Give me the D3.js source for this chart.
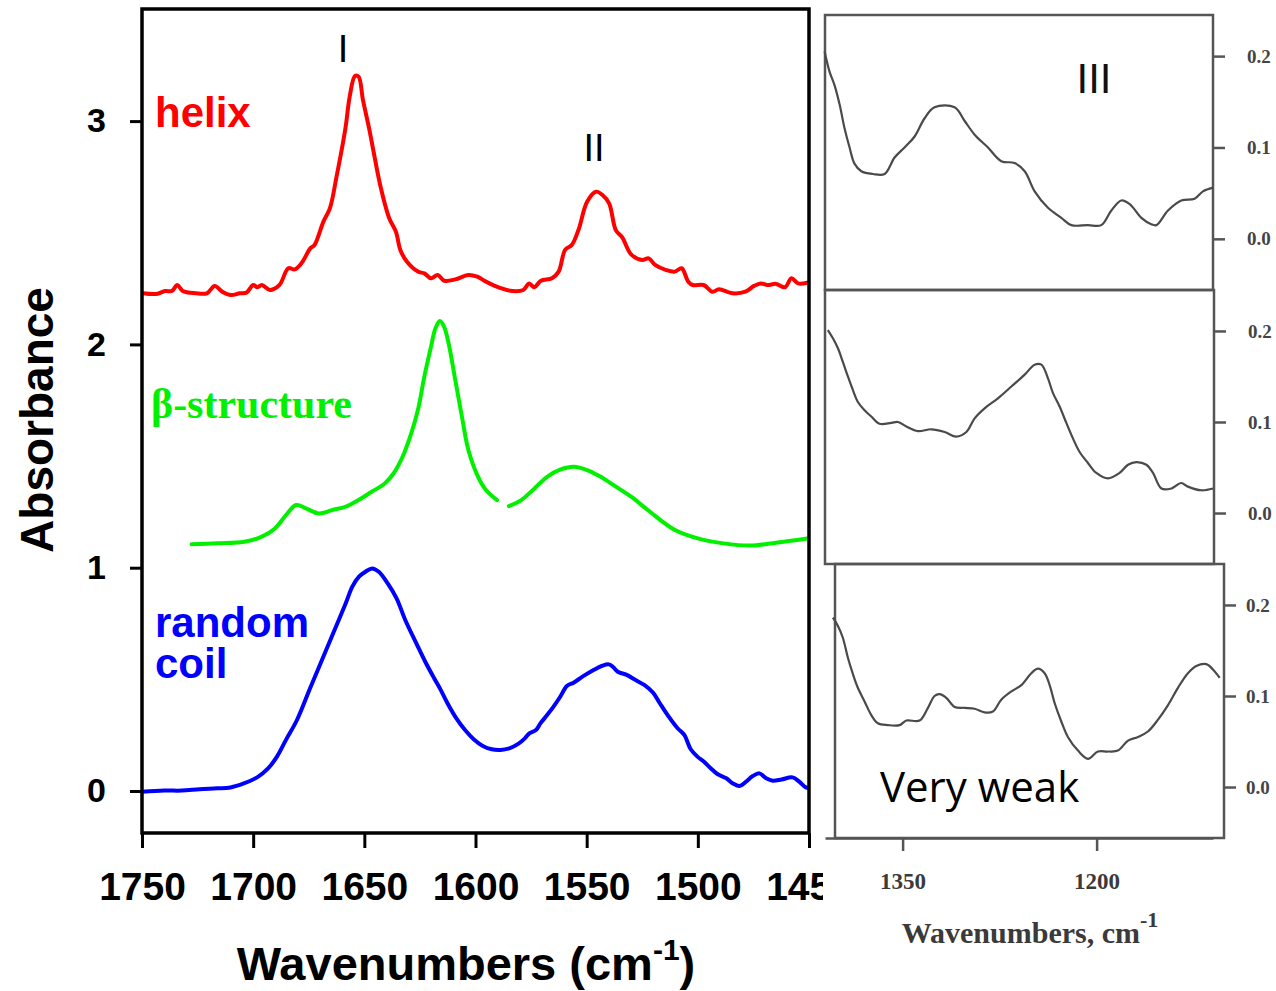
<!DOCTYPE html>
<html><head><meta charset="utf-8">
<script src="https://cdn.jsdelivr.net/npm/d3@7"></script>
<style>body{margin:0;background:#fff}svg{display:block}</style>
</head><body>
<svg id="c" width="1276" height="991"></svg>
<script>
// ---------- data ----------
const xTickValues = [1750,1700,1650,1600,1550,1500,1450];
const yTickValues = [0,1,2,3];
const seriesNames = ["helix","β-structure","random coil"];
const bandLabels = ["I","II","III"];

const helixSpectrum = [[1749.5,2.229],[1743.5,2.226],[1739.6,2.239],[1736.6,2.239],[1734.1,2.266],[1731.7,2.239],[1725.8,2.229],[1720.8,2.229],[1717.3,2.262],[1713.9,2.236],[1710.0,2.221],[1706.0,2.229],[1703.0,2.232],[1700.0,2.266],[1698.1,2.256],[1696.1,2.266],[1692.5,2.244],[1688.2,2.266],[1684.2,2.341],[1681.3,2.336],[1678.3,2.363],[1674.3,2.430],[1672.4,2.445],[1668.4,2.550],[1665.5,2.609],[1662.5,2.751],[1658.5,2.968],[1656.6,3.109],[1654.2,3.202],[1652.6,3.199],[1650.6,3.094],[1647.7,2.960],[1645.7,2.856],[1642.7,2.706],[1638.8,2.565],[1635.8,2.505],[1633.8,2.423],[1630.9,2.371],[1625.9,2.326],[1623.0,2.318],[1620.0,2.296],[1617.0,2.311],[1614.0,2.285],[1609.1,2.291],[1603.2,2.311],[1599.2,2.303],[1595.3,2.281],[1589.3,2.254],[1583.4,2.239],[1578.5,2.244],[1575.9,2.273],[1573.5,2.256],[1570.6,2.285],[1565.6,2.296],[1562.6,2.326],[1559.7,2.423],[1556.7,2.445],[1553.7,2.512],[1549.8,2.639],[1545.8,2.684],[1542.9,2.669],[1539.9,2.632],[1536.9,2.512],[1534.0,2.479],[1530.0,2.403],[1525.1,2.378],[1522.1,2.385],[1519.2,2.356],[1514.2,2.333],[1510.3,2.326],[1507.3,2.341],[1504.3,2.281],[1502.3,2.266],[1497.4,2.266],[1493.4,2.236],[1490.5,2.247],[1484.5,2.229],[1478.6,2.236],[1474.7,2.262],[1471.7,2.273],[1468.7,2.266],[1464.8,2.271],[1460.8,2.256],[1457.9,2.296],[1454.9,2.273],[1450.9,2.276]];

// null marks the break in the β-structure trace
const betaSpectrum = [[1727.7,1.105],[1715.9,1.109],[1704.0,1.116],[1696.1,1.139],[1690.2,1.176],[1685.2,1.236],[1680.7,1.281],[1676.3,1.266],[1670.4,1.243],[1664.5,1.258],[1658.5,1.273],[1652.6,1.303],[1646.7,1.340],[1640.7,1.378],[1636.8,1.423],[1632.8,1.497],[1628.9,1.602],[1625.9,1.706],[1623.0,1.856],[1620.0,1.990],[1618.0,2.072],[1616.0,2.105],[1614.1,2.079],[1612.1,2.005],[1609.1,1.841],[1606.1,1.676],[1603.2,1.527],[1599.2,1.415],[1595.3,1.348],[1590.3,1.303],null,[1585.0,1.276],[1579.4,1.303],[1573.5,1.355],[1567.6,1.408],[1561.7,1.440],[1555.7,1.452],[1549.8,1.437],[1543.9,1.408],[1537.9,1.370],[1530.0,1.318],[1522.1,1.255],[1510.3,1.169],[1498.4,1.127],[1488.5,1.109],[1476.6,1.099],[1464.8,1.112],[1450.9,1.131]];

const coilSpectrum = [[1750.0,-0.003],[1740.0,0.002],[1732.1,0.002],[1724.1,0.008],[1716.2,0.012],[1710.2,0.016],[1704.2,0.034],[1698.2,0.061],[1693.3,0.101],[1689.3,0.154],[1685.3,0.228],[1680.3,0.318],[1674.4,0.460],[1668.4,0.602],[1663.4,0.721],[1658.4,0.840],[1655.4,0.915],[1652.4,0.960],[1649.5,0.982],[1646.5,0.997],[1643.5,0.982],[1639.5,0.930],[1635.5,0.863],[1631.6,0.766],[1626.6,0.661],[1622.6,0.579],[1618.6,0.505],[1615.6,0.452],[1612.6,0.393],[1608.6,0.325],[1604.7,0.273],[1600.7,0.231],[1596.7,0.202],[1592.7,0.187],[1588.8,0.184],[1584.8,0.191],[1580.8,0.211],[1577.8,0.236],[1575.8,0.258],[1572.8,0.273],[1570.8,0.303],[1567.8,0.340],[1564.9,0.378],[1561.9,0.422],[1558.9,0.470],[1555.9,0.485],[1551.9,0.512],[1546.9,0.542],[1543.0,0.561],[1540.0,0.567],[1538.0,0.554],[1536.0,0.534],[1532.0,0.520],[1528.0,0.497],[1524.1,0.475],[1520.1,0.440],[1517.1,0.393],[1513.1,0.333],[1509.1,0.281],[1506.1,0.251],[1503.2,0.187],[1500.2,0.154],[1497.2,0.131],[1494.2,0.102],[1491.2,0.076],[1487.2,0.057],[1484.2,0.034],[1481.3,0.022],[1478.3,0.042],[1475.3,0.067],[1472.3,0.079],[1469.3,0.057],[1466.3,0.046],[1462.3,0.052],[1457.4,0.061],[1454.4,0.042],[1451.4,0.016],[1448.4,0.012]];

// amide III inset (three stacked panels)
const insetXTickValues = [1350,1200];
const insetYTickLabels = ["0.2","0.1","0.0"];
const insetYTickValues = [0.2,0.1,0.0];

const insetHelix = [[1410.3,0.205],[1406.5,0.183],[1402.6,0.168],[1398.7,0.147],[1394.9,0.121],[1391.0,0.100],[1387.1,0.082],[1381.9,0.074],[1373.0,0.071],[1363.9,0.071],[1356.2,0.089],[1348.5,0.100],[1340.7,0.112],[1333.0,0.132],[1325.3,0.144],[1309.8,0.144],[1302.0,0.129],[1294.3,0.114],[1284.0,0.100],[1273.7,0.085],[1263.4,0.083],[1255.6,0.074],[1247.9,0.052],[1237.6,0.034],[1227.3,0.023],[1219.5,0.015],[1206.7,0.015],[1196.4,0.015],[1188.6,0.031],[1180.9,0.042],[1174.4,0.038],[1165.4,0.023],[1157.7,0.016],[1153.8,0.015],[1144.8,0.031],[1134.5,0.042],[1124.2,0.044],[1117.8,0.052],[1110.0,0.056]];

const insetBeta = [[1407.8,0.201],[1403.9,0.192],[1400.0,0.181],[1396.2,0.166],[1392.3,0.150],[1388.4,0.135],[1384.6,0.122],[1379.4,0.113],[1374.2,0.106],[1367.8,0.098],[1358.7,0.099],[1353.6,0.100],[1347.1,0.095],[1338.2,0.090],[1327.8,0.092],[1317.5,0.089],[1308.5,0.084],[1300.7,0.089],[1294.3,0.104],[1286.6,0.115],[1276.3,0.126],[1265.9,0.139],[1255.6,0.152],[1247.9,0.163],[1242.7,0.163],[1237.6,0.148],[1233.8,0.132],[1228.6,0.117],[1223.4,0.099],[1218.3,0.082],[1213.1,0.067],[1206.7,0.055],[1200.2,0.044],[1191.2,0.038],[1182.2,0.044],[1175.7,0.053],[1169.3,0.056],[1161.5,0.053],[1156.4,0.044],[1149.9,0.027],[1142.2,0.027],[1134.5,0.033],[1129.4,0.029],[1119.0,0.025],[1110.0,0.027]];

const insetCoil = [[1403.9,0.186],[1400.0,0.177],[1396.2,0.164],[1392.3,0.142],[1388.4,0.124],[1384.6,0.109],[1379.4,0.094],[1374.2,0.079],[1369.1,0.070],[1361.4,0.068],[1352.3,0.068],[1347.1,0.073],[1336.9,0.073],[1330.4,0.087],[1325.3,0.100],[1321.4,0.102],[1316.2,0.098],[1309.8,0.088],[1302.0,0.087],[1294.3,0.086],[1286.6,0.082],[1280.2,0.083],[1273.7,0.096],[1265.9,0.105],[1258.2,0.112],[1250.5,0.125],[1245.3,0.130],[1240.2,0.125],[1236.3,0.112],[1232.4,0.092],[1227.3,0.072],[1222.2,0.055],[1214.4,0.040],[1206.7,0.031],[1199.0,0.039],[1191.2,0.039],[1183.5,0.040],[1175.7,0.051],[1168.0,0.055],[1160.3,0.061],[1152.5,0.074],[1144.8,0.090],[1137.1,0.109],[1129.4,0.125],[1122.9,0.133],[1115.2,0.135],[1108.7,0.127],[1104.8,0.120]];

// ---------- drawing ----------
const svg = d3.select("#c");
const SANS = "'Liberation Sans', Arial, sans-serif";
const SERIF = "'Liberation Serif', 'Times New Roman', serif";
const GREEN = "#00f000";

const frame = {l:142, r:809, t:9, b:833};
const x = d3.scaleLinear().domain([1750,1450]).range([frame.l, frame.r]);
const y = d3.scaleLinear().domain([-0.188,3.502]).range([frame.b, frame.t]);

svg.append("clipPath").attr("id","mainClip").append("rect")
  .attr("x",frame.l).attr("y",frame.t).attr("width",frame.r-frame.l).attr("height",frame.b-frame.t);

const line = d3.line().defined(d=>d!==null).x(d=>x(d[0])).y(d=>y(d[1]))
  .curve(d3.curveCatmullRom.alpha(0.5));

const plot = svg.append("g").attr("clip-path","url(#mainClip)");
[[helixSpectrum,"#ff0000"],[betaSpectrum,GREEN],[coilSpectrum,"#0000ff"]].forEach(([data,col])=>{
  plot.append("path").datum(data).attr("d",line).attr("fill","none")
    .attr("stroke",col).attr("stroke-width",4).attr("stroke-linejoin","round").attr("stroke-linecap","round");
});

// axes
const yAxis = svg.append("g").attr("transform",`translate(${frame.l},0)`)
  .call(d3.axisLeft(y).tickValues(yTickValues).tickSize(12).tickPadding(24).tickFormat(d3.format("d")));
yAxis.select(".domain").remove();
yAxis.selectAll("line").attr("stroke","#000").attr("stroke-width",3);
yAxis.selectAll("text").attr("font-family",SANS).attr("font-weight","bold").attr("font-size",34).attr("fill","#000");

const xAxis = svg.append("g").attr("transform",`translate(0,${frame.b})`)
  .call(d3.axisBottom(x).tickValues(xTickValues).tickSize(15).tickPadding(24).tickFormat(d3.format("d")));
xAxis.select(".domain").remove();
xAxis.selectAll("line").attr("stroke","#000").attr("stroke-width",3);
xAxis.selectAll("text").attr("font-family",SANS).attr("font-weight","bold").attr("font-size",39).attr("fill","#000");

svg.append("rect").attr("x",frame.l).attr("y",frame.t).attr("width",frame.r-frame.l).attr("height",frame.b-frame.t)
  .attr("fill","none").attr("stroke","#000").attr("stroke-width",3.5);

// series labels
svg.append("text").attr("x",155).attr("y",127).text(seriesNames[0])
  .attr("font-family",SANS).attr("font-weight","bold").attr("font-size",42).attr("fill","#ff0000");
svg.append("text").attr("x",151).attr("y",418).text(seriesNames[1])
  .attr("font-family",SERIF).attr("font-weight","bold").attr("font-size",42).attr("fill",GREEN);
const rc = svg.append("text").attr("font-family",SANS).attr("font-weight","bold").attr("font-size",42).attr("fill","#0000ff");
rc.append("tspan").attr("x",155).attr("y",637).text(seriesNames[2].split(" ")[0]);
rc.append("tspan").attr("x",155).attr("y",678).text(seriesNames[2].split(" ")[1]);

svg.append("text").attr("x",343).attr("y",62).attr("text-anchor","middle").text(bandLabels[0])
  .attr("font-family",SANS).attr("font-size",38).attr("fill","#000");
svg.append("text").attr("x",594).attr("y",161).attr("text-anchor","middle").text(bandLabels[1])
  .attr("font-family",SANS).attr("font-size",38).attr("fill","#000");

// axis titles
svg.append("text").attr("transform","translate(53,420) rotate(-90)").attr("text-anchor","middle")
  .text("Absorbance").attr("font-family",SANS).attr("font-weight","bold").attr("font-size",46).attr("fill","#000");
const xt = svg.append("text").attr("x",466).attr("y",980).attr("text-anchor","middle")
  .attr("font-family",SANS).attr("font-weight","bold").attr("font-size",47).attr("fill","#000");
xt.append("tspan").text("Wavenumbers (cm");
xt.append("tspan").attr("dy",-20).attr("font-size",30).text("-1");
xt.append("tspan").attr("dy",20).text(")");

// ---------- inset (amide III) ----------
svg.append("rect").attr("x",823).attr("y",0).attr("width",1276-823).attr("height",991).attr("fill","#fff");

const xr = d3.scaleLinear().domain([1410,1110]).range([825,1213]);
const panels = [
  {x0:825,x1:1213,y0:15,y1:290,pad:22,data:insetHelix},
  {x0:825,x1:1214,y0:290,y1:564,pad:22,data:insetBeta},
  {x0:835,x1:1224,y0:564,y1:838,pad:10,data:insetCoil}
];
const GREY = "#555";
panels.forEach((p,i)=>{
  const yr = d3.scaleLinear().domain([-0.056,0.245]).range([p.y1,p.y0]);
  const g = svg.append("g");
  g.append("rect").attr("x",p.x0).attr("y",p.y0).attr("width",p.x1-p.x0).attr("height",p.y1-p.y0)
    .attr("fill","none").attr("stroke",GREY).attr("stroke-width",2.5);
  const ln = d3.line().x(d=>xr(d[0])).y(d=>yr(d[1])).curve(d3.curveCatmullRom.alpha(0.5));
  g.append("path").datum(p.data).attr("d",ln).attr("fill","none").attr("stroke","#4a4a4a").attr("stroke-width",2.2);
  const ax = g.append("g").attr("transform",`translate(${p.x1},0)`)
    .call(d3.axisRight(yr).tickValues(insetYTickValues).tickSize(12).tickPadding(p.pad)
      .tickFormat((d,k)=>insetYTickLabels[k]));
  ax.select(".domain").remove();
  ax.selectAll("line").attr("stroke",GREY).attr("stroke-width",2.5);
  ax.selectAll("text").attr("font-family",SERIF).attr("font-weight","bold").attr("font-size",19).attr("fill","#444");
});

const bx = svg.append("g").attr("transform","translate(0,838)")
  .call(d3.axisBottom(xr).tickValues(insetXTickValues).tickSize(13).tickSizeOuter(0).tickPadding(22).tickFormat(d3.format("d")));
bx.select(".domain").attr("stroke",GREY).attr("stroke-width",2.5);
bx.selectAll("line").attr("stroke",GREY).attr("stroke-width",2.5);
bx.selectAll("text").attr("font-family",SERIF).attr("font-weight","bold").attr("font-size",23).attr("fill","#3a3a3a");

const it = svg.append("text").attr("x",1030).attr("y",943).attr("text-anchor","middle")
  .attr("font-family",SERIF).attr("font-weight","bold").attr("font-size",30).attr("fill","#3a3a3a");
it.append("tspan").text("Wavenumbers, cm");
it.append("tspan").attr("dy",-16).attr("font-size",22).text("-1");

svg.append("text").attr("x",1094).attr("y",93).attr("text-anchor","middle").text(bandLabels[2])
  .attr("font-family",SANS).attr("font-size",42).attr("fill","#111");
svg.append("text").attr("x",880).attr("y",802).text("Very weak")
  .attr("font-family","'Open Sans', sans-serif").attr("font-size",42).attr("fill","#000");
</script>
</body></html>
